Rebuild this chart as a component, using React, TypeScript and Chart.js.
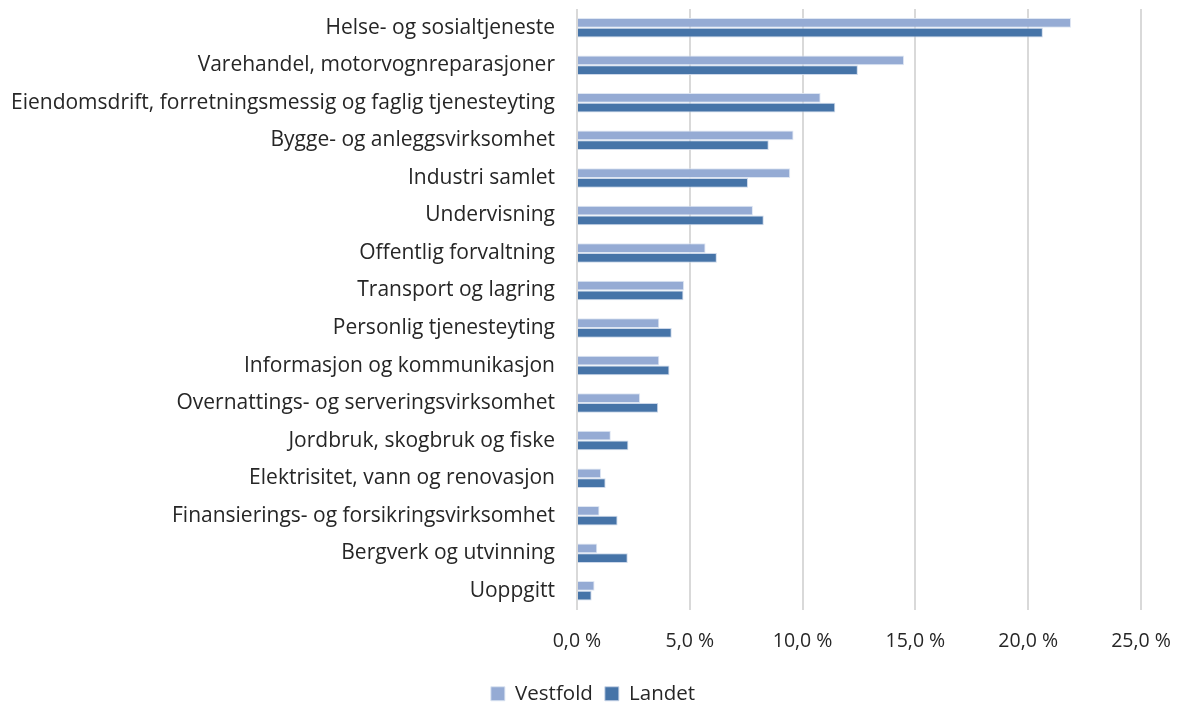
import React, { useEffect, useRef } from "react";
import { Chart, registerables } from "chart.js";

Chart.register(...registerables);

const categories = [
  "Helse- og sosialtjeneste",
  "Varehandel, motorvognreparasjoner",
  "Eiendomsdrift, forretningsmessig og faglig tjenesteyting",
  "Bygge- og anleggsvirksomhet",
  "Industri samlet",
  "Undervisning",
  "Offentlig forvaltning",
  "Transport og lagring",
  "Personlig tjenesteyting",
  "Informasjon og kommunikasjon",
  "Overnattings- og serveringsvirksomhet",
  "Jordbruk, skogbruk og fiske",
  "Elektrisitet, vann og renovasjon",
  "Finansierings- og forsikringsvirksomhet",
  "Bergverk og utvinning",
  "Uoppgitt",
];

const vestfold = [21.9, 14.5, 10.8, 9.6, 9.45, 7.8, 5.7, 4.75, 3.65, 3.65, 2.8, 1.5, 1.07, 1.0, 0.9, 0.78];
const landet = [20.65, 12.45, 11.45, 8.5, 7.58, 8.28, 6.2, 4.72, 4.2, 4.1, 3.6, 2.28, 1.27, 1.8, 2.25, 0.65];

const seriesNames = ["Vestfold", "Landet"];
const xTicks = [0, 5, 10, 15, 20, 25];

const FONT = "'Open Sans', sans-serif";
const TEXT = "#262626";

export default function App() {
  const ref = useRef<HTMLCanvasElement | null>(null);

  useEffect(() => {
    if (!ref.current) return;
    const chart = new Chart(ref.current, {
      type: "bar",
      data: {
        labels: categories,
        datasets: [
          {
            label: seriesNames[0],
            data: vestfold,
            backgroundColor: "#95ABD4",
            borderColor: "rgba(220,228,242,0.9)",
            borderWidth: 1,
            categoryPercentage: 0.52,
            barPercentage: 1,
          },
          {
            label: seriesNames[1],
            data: landet,
            backgroundColor: "#4674A8",
            borderColor: "rgba(200,212,232,0.9)",
            borderWidth: 1,
            categoryPercentage: 0.52,
            barPercentage: 1,
          },
        ],
      },
      options: {
        indexAxis: "y",
        animation: false,
        responsive: true,
        maintainAspectRatio: false,
        layout: { padding: { top: 1, right: 0, left: 3, bottom: 0 } },
        plugins: {
          tooltip: { enabled: false },
          legend: {
            position: "bottom",
            labels: {
              font: { family: FONT, size: 20.5 },
              color: TEXT,
              boxWidth: 14,
              boxHeight: 14,
              padding: 12,
            },
          },
        },
        scales: {
          x: {
            min: 0,
            max: 25,
            afterBuildTicks: (axis: any) => {
              axis.ticks = xTicks.map((v) => ({ value: v }));
            },
            afterFit: (s: any) => {
              s.height = 62;
              s.paddingLeft = 0;
              s.paddingRight = 34;
            },
            ticks: {
              font: { family: FONT, size: 19.5 },
              color: TEXT,
              padding: 20,
              maxRotation: 0,
              callback: (v: any) => Number(v).toFixed(1).replace(".", ",") + " %",
            },
            grid: { color: "#D9D9D9", lineWidth: 2, drawTicks: false },
            border: { display: false },
          },
          y: {
            afterFit: (s: any) => {
              s.paddingTop = 0;
              s.paddingBottom = 0;
            },
            ticks: {
              font: { family: FONT, size: 21 },
              color: TEXT,
              padding: 0,
            },
            grid: {
              display: true,
              drawOnChartArea: false,
              drawTicks: true,
              tickLength: 22,
              color: "rgba(0,0,0,0)",
            },
            border: { display: false },
          },
        },
      },
    });
    return () => chart.destroy();
  }, []);

  return (
    <div
      style={{
        position: "absolute",
        left: 0,
        top: 0,
        width: "100%",
        height: 706,
        overflow: "hidden",
      }}
    >
      <div style={{ position: "absolute", left: 8, top: 8, right: 8, height: 706 }}>
        <canvas ref={ref} />
      </div>
    </div>
  );
}
